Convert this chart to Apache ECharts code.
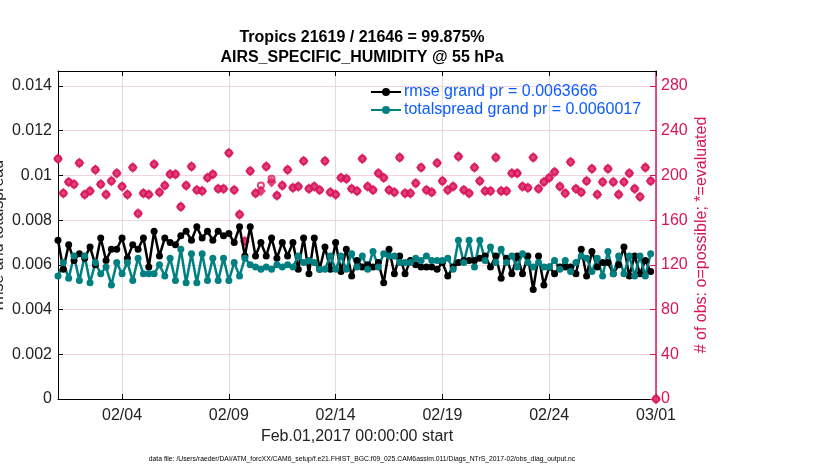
<!DOCTYPE html>
<html>
<head>
<meta charset="utf-8">
<script src="https://cdn.jsdelivr.net/npm/echarts@6/dist/echarts.min.js"></script>
<style>
html, body {margin: 0; padding: 0; background: #fff;}
#graphObs {width: 830px; height: 470px;}
</style>
</head>
<body>
<div id="graphObs"></div>
<script>
// 6-hourly values, starting Feb.01,2017 00:00
var rmse = [0.0071,0.0058,0.0069,0.0062,0.0065,0.0063,0.0068,0.0060,0.0072,0.0062,
    0.0067,0.0067,0.0072,0.0063,0.0069,0.0067,0.0072,0.0059,0.0075,0.0064,
    0.0072,0.0070,0.0069,0.0073,0.0075,0.0071,0.0077,0.0072,0.0075,0.0071,
    0.0075,0.0073,0.0074,0.0070,0.0077,0.0064,0.0077,0.0064,0.0070,0.0064,
    0.0072,0.0063,0.0070,0.0064,0.0070,0.0058,0.0072,0.0056,0.0072,0.0058,
    0.0068,0.0058,0.0070,0.0057,0.0067,0.0055,0.0062,0.0059,0.0060,0.0059,
    0.0061,0.0052,0.0067,0.0056,0.0064,0.0056,0.0062,0.0060,0.0059,0.0059,
    0.0059,0.0058,0.0061,0.0055,0.0059,0.0061,0.0062,0.0062,0.0062,0.0063,
    0.0064,0.0059,0.0064,0.0054,0.0063,0.0056,0.0064,0.0056,0.0064,0.0049,
    0.0064,0.0051,0.0059,0.0056,0.0059,0.0059,0.0059,0.0056,0.0067,0.0055,
    0.0066,0.0059,0.0061,0.0061,0.0056,0.0060,0.0068,0.0055,0.0064,0.0056,
    0.0062,0.0057];

var totalspread = [0.0055,0.0061,0.0054,0.0064,0.0053,0.0064,0.0052,0.0061,0.0056,0.0059,
    0.0051,0.0061,0.0056,0.0061,0.0053,0.0063,0.0056,0.0056,0.0056,0.0060,
    0.0055,0.0063,0.0053,0.0067,0.0052,0.0065,0.0052,0.0065,0.0053,0.0063,
    0.0053,0.0063,0.0053,0.0061,0.0055,0.0063,0.0060,0.0059,0.0058,0.0059,
    0.0058,0.0060,0.0059,0.0060,0.0059,0.0064,0.0061,0.0062,0.0061,0.0058,
    0.0058,0.0064,0.0058,0.0064,0.0058,0.0065,0.0059,0.0064,0.0058,0.0066,
    0.0059,0.0065,0.0064,0.0064,0.0061,0.0061,0.0061,0.0063,0.0062,0.0064,
    0.0062,0.0062,0.0062,0.0063,0.0058,0.0071,0.0061,0.0071,0.0059,0.0071,
    0.0062,0.0068,0.0061,0.0067,0.0061,0.0064,0.0059,0.0065,0.0061,0.0059,
    0.0061,0.0059,0.0059,0.0062,0.0058,0.0062,0.0057,0.0061,0.0064,0.0063,
    0.0057,0.0063,0.0055,0.0066,0.0056,0.0064,0.0056,0.0064,0.0055,0.0064,
    0.0055,0.0065];

var obsEvaluated = [215,184,194,192,211,183,186,205,192,183,
    195,202,190,183,207,166,184,183,210,185,
    191,201,201,172,191,208,187,186,198,201,
    188,188,220,187,165,141,204,184,186,208,
    194,182,191,205,189,190,213,188,190,187,
    213,185,183,198,197,188,186,215,190,187,
    202,198,187,185,216,184,184,193,207,187,
    185,211,195,187,190,217,187,184,207,195,
    186,186,216,186,186,202,202,190,189,216,
    188,194,198,203,190,184,212,188,185,195,
    206,183,194,206,194,183,194,202,188,181,
    207,195,0];

// where possible > evaluated: [index, possible]
var obsPossibleDiff = [[38, 191], [40, 197]];

var xTickDays = [3, 8, 13, 18, 23, 28];
var xTickLabels = ['02/04', '02/09', '02/14', '02/19', '02/24', '03/01'];
var leftTicks = [0, 0.002, 0.004, 0.006, 0.008, 0.01, 0.012, 0.014];
var rightTicks = [0, 40, 80, 120, 160, 200, 240, 280];

var stepDays = 0.25;
var leftMax = 0.01467;
var rightMax = leftMax / 0.00005;

var red = '#d8145a';
var teal = '#008080';
var blue = '#0b5bff';
var font = '"Liberation Sans", Arial, sans-serif';

function toPairs(arr) {
    var out = [];
    for (var i = 0; i < arr.length; i++) {
        out.push([i * stepDays, arr[i]]);
    }
    return out;
}

var obsPossible = obsEvaluated.slice();
obsPossibleDiff.forEach(function (d) { obsPossible[d[0]] = d[1]; });

var chart_obs = echarts.init(document.getElementById('graphObs'));

var option_obs = {
    animation: false,
    backgroundColor: '#fff',
    textStyle: {fontFamily: font},
    title: [{
        text: 'Tropics 21619 / 21646 = 99.875%\nAIRS_SPECIFIC_HUMIDITY @ 55 hPa',
        left: 357, top: 23, textAlign: 'center',
        textStyle: {fontSize: 16, fontWeight: 'bold', color: '#000', lineHeight: 20, fontFamily: font}
    }, {
        text: 'data file: /Users/raeder/DAI/ATM_forcXX/CAM6_setup/f.e21.FHIST_BGC.f09_025.CAM6assim.011/Diags_NTrS_2017-02/obs_diag_output.nc',
        left: 357, top: 451, textAlign: 'center',
        textStyle: {fontSize: 6.8, fontWeight: 'normal', color: '#000', fontFamily: font}
    }],
    legend: {
        left: 370, top: 84, orient: 'vertical', padding: 0,
        itemWidth: 30, itemHeight: 10, itemGap: 2,
        textStyle: {fontSize: 16, color: blue, fontFamily: font, padding: [0, 0, 0, -2]},
        data: ['rmse grand pr = 0.0063666', 'totalspread grand pr = 0.0060017']
    },
    grid: {left: 58, right: 174, top: 71, bottom: 71, containLabel: false, outerBoundsMode: 'none'},
    xAxis: [{
        type: 'value', min: 0, max: 28, position: 'bottom',
        name: 'Feb.01,2017 00:00:00 start', nameLocation: 'middle', nameGap: 28,
        nameTextStyle: {fontSize: 16, color: '#222', fontFamily: font},
        axisLine: {onZero: false, lineStyle: {color: '#000', width: 1}},
        axisTick: {inside: true, length: 5, customValues: xTickDays, lineStyle: {color: '#000'}},
        axisLabel: {
            customValues: xTickDays, fontSize: 16, color: '#222', margin: 9,
            formatter: function (v) { return xTickLabels[xTickDays.indexOf(v)]; }
        },
        splitLine: {show: true, lineStyle: {color: '#dedede', width: 1}}
    }, {
        type: 'value', min: 0, max: 28, position: 'top',
        axisLine: {onZero: false, lineStyle: {color: '#000', width: 1}},
        axisTick: {inside: true, length: 5, customValues: xTickDays, lineStyle: {color: '#000'}},
        axisLabel: {show: false},
        splitLine: {show: false}
    }],
    yAxis: [{
        type: 'value', min: 0, max: leftMax, position: 'left',
        name: 'rmse and totalspread', nameLocation: 'middle', nameGap: 51, nameRotate: 90,
        nameMoveOverlap: false,
        nameTextStyle: {fontSize: 16, color: '#222', fontFamily: font},
        axisLine: {show: true, onZero: false, lineStyle: {color: '#000', width: 1}},
        axisTick: {show: true, inside: true, length: 5, customValues: leftTicks, lineStyle: {color: '#000'}},
        axisLabel: {customValues: leftTicks, fontSize: 16, color: '#222', margin: 6},
        splitLine: {show: true, lineStyle: {color: '#f2d3df', width: 1}}
    }, {
        type: 'value', min: 0, max: rightMax, position: 'right',
        name: '# of obs: o=possible; *=evaluated', nameLocation: 'middle', nameGap: 38, nameRotate: 90,
        nameMoveOverlap: false,
        nameTextStyle: {fontSize: 16, color: red, fontFamily: font},
        axisLine: {show: true, onZero: false, lineStyle: {color: red, width: 1.5}},
        axisTick: {show: true, inside: true, length: 6, customValues: rightTicks, lineStyle: {color: red}},
        axisLabel: {customValues: rightTicks, fontSize: 16, color: red, margin: 5},
        splitLine: {show: false}
    }],
    series: [{
        name: 'rmse grand pr = 0.0063666',
        type: 'line', yAxisIndex: 0,
        data: toPairs(rmse),
        symbol: 'circle', symbolSize: 7,
        lineStyle: {color: '#000', width: 2.5},
        itemStyle: {color: '#000'}
    }, {
        name: 'totalspread grand pr = 0.0060017',
        type: 'line', yAxisIndex: 0,
        data: toPairs(totalspread),
        symbol: 'circle', symbolSize: 7,
        lineStyle: {color: teal, width: 2.5},
        itemStyle: {color: teal}
    }, {
        name: 'possible',
        type: 'scatter', yAxisIndex: 1, clip: false,
        data: toPairs(obsPossible),
        symbol: 'emptyCircle', symbolSize: 6,
        itemStyle: {color: red, borderColor: red, borderWidth: 1.2}
    }, {
        name: 'evaluated',
        type: 'scatter', yAxisIndex: 1, clip: false,
        data: toPairs(obsEvaluated),
        symbol: 'diamond', symbolSize: [10, 11],
        itemStyle: {color: red}
    }]
};

chart_obs.setOption(option_obs);
</script>
</body>
</html>
